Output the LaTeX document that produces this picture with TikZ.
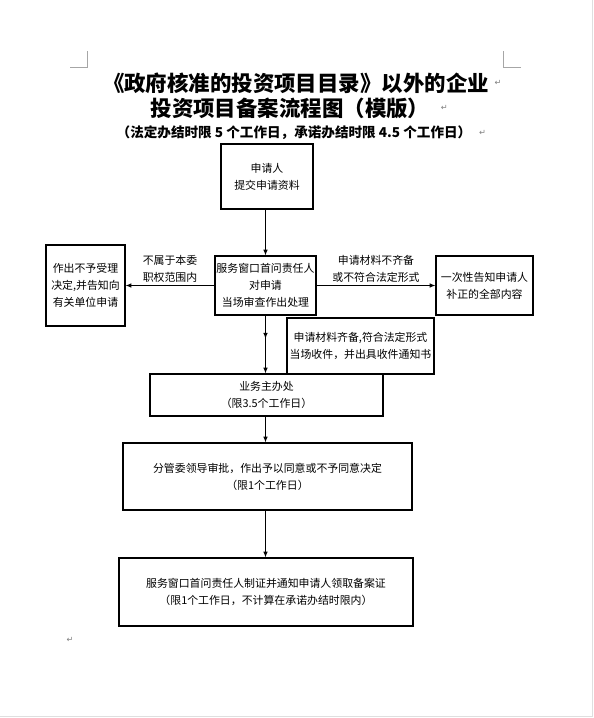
\documentclass[tikz,border=0pt]{standalone}
\usepackage{fontspec}
\setmainfont{Noto Sans CJK SC}
\newfontfamily\symfont{DejaVu Sans}
\usetikzlibrary{arrows.meta,decorations.markings}
\newcommand{\px}{0.03cm}

\tikzset{
  flowbox/.style={draw=black, line width=0.9pt, align=center, inner sep=1pt,
    font=\fontsize{9.3}{14.5}\selectfont},
  flowlabel/.style={align=center, inner sep=2pt, font=\fontsize{9.3}{14.5}\selectfont},
  flowarrow/.style={line width=0.9pt, -{Latex[length=5pt,width=4pt]}},
  parmark/.style={gray, inner sep=0pt, font=\symfont\fontsize{7}{7}\selectfont},
  cropmark/.style={gray!70, line width=0.5pt},
}

\begin{document}
\begin{tikzpicture}[x=\px, y=-\px]
  \useasboundingbox (0,0) rectangle (594,718);

  % ---- page edges and crop marks ----
  \draw[gray!25, line width=0.6pt] (592,0) -- (592,716) -- (0,716);
  \draw[cropmark] (70,67) -- (87,67) -- (87,51);
  \draw[cropmark] (521,67) -- (503,67) -- (503,51);

  % ---- Title ----
  \node[font=\bfseries\fontsize{18.3}{20}\selectfont] (title1) at (296,83)
    {《政府核准的投资项目目录》以外的企业};
  \node[font=\bfseries\fontsize{18.3}{20}\selectfont] (title2) at (290,108)
    {投资项目备案流程图（模版）};
  \node[font=\bfseries\fontsize{11.6}{12}\selectfont] (subtitle) at (294,133)
    {（法定办结时限 5 个工作日，承诺办结时限 4.5 个工作日）};
  \node[parmark, right=1pt] at (title1.east) {↵};
  \node[parmark, right=6pt] at (title2.east) {↵};
  \node[parmark, right=3pt] at (subtitle.east) {↵};

  % ---- Boxes ----
  \node[flowbox, minimum width=92*\px, minimum height=65*\px] (apply) at (267,176.5)
    {申请人\\提交申请资料};
  \node[flowbox, minimum width=101*\px, minimum height=59*\px] (review) at (265.5,285.5)
    {服务窗口首问责任人\\对申请\\当场审查作出处理};
  \node[flowbox, minimum width=79*\px, minimum height=81*\px] (reject) at (85.5,285.5)
    {作出不予受理\\决定,并告知向\\有关单位申请};
  \node[flowbox, minimum width=97*\px, minimum height=59*\px] (supply) at (484.5,285.5)
    {一次性告知申请人\\补正的全部内容};
  \node[flowbox, minimum width=147*\px, minimum height=56*\px] (accept) at (360.5,346)
    {申请材料齐备,符合法定形式\\当场收件，并出具收件通知书};
  \node[flowbox, minimum width=233*\px, minimum height=42*\px] (office) at (266.5,395)
    {业务主办处\\（限3.5个工作日）};
  \node[flowbox, minimum width=289*\px, minimum height=67*\px] (leader) at (267.5,476.5)
    {分管委领导审批，作出予以同意或不予同意决定\\（限1个工作日）};
  \node[flowbox, minimum width=294*\px, minimum height=68*\px] (permit) at (266,592)
    {服务窗口首问责任人制证并通知申请人领取备案证\\（限1个工作日，不计算在承诺办结时限内）};

  % ---- Connectors ----
  \draw[flowarrow] (apply.south -| review.north) -- (review.north);
  \draw[flowarrow] (review.west) -- (reject.east)
    node[flowlabel, midway, above] {不属于本委\\职权范围内};
  \draw[flowarrow] (review.east) -- (supply.west)
    node[flowlabel, midway, above] {申请材料不齐备\\或不符合法定形式};
  \draw[flowarrow, postaction={decorate, decoration={markings,
      mark=at position 0.4 with {\arrow{Latex[length=5pt,width=4pt]}}}}]
    (review.south) -- (review.south |- office.north);
  \draw[flowarrow] (review.south |- office.south) -- (review.south |- leader.north);
  \draw[flowarrow] (review.south |- leader.south) -- (review.south |- permit.north);

  % ---- paragraph mark ----
  \node[parmark] (endmark) at (70,640) {↵};

\end{tikzpicture}
\end{document}
